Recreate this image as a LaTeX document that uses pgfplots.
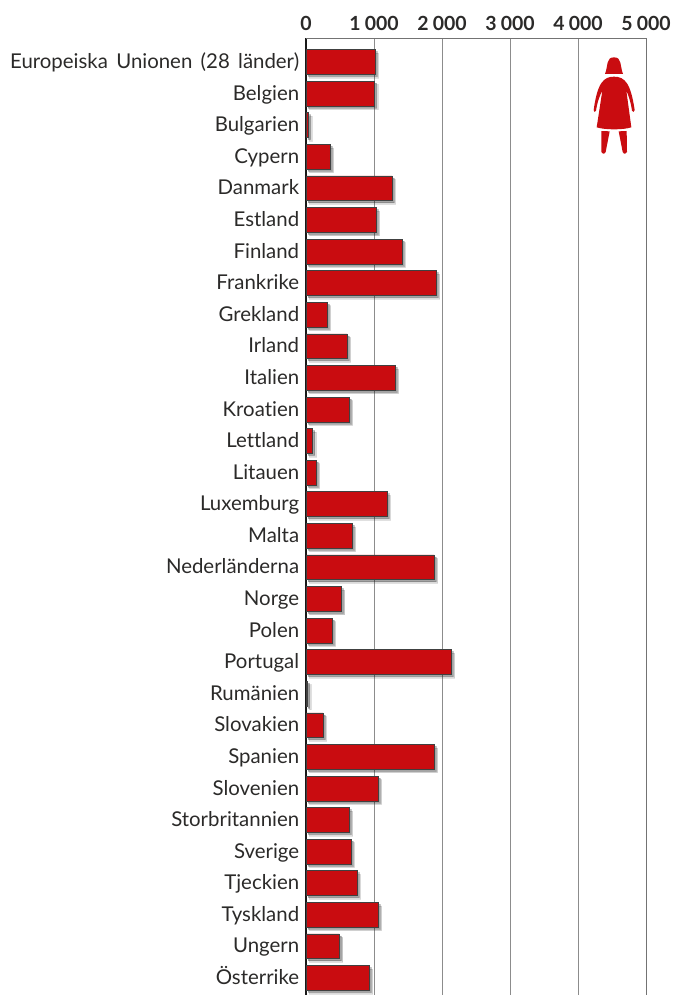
\documentclass[border=0pt]{standalone}
\usepackage{pgfplots}
\usepackage{pgfplotstable}
\usepackage{fontspec}
\setmainfont[Ligatures=NoCommon,WordSpace=1.6]{Lato}
\pgfplotsset{compat=1.18}
\usetikzlibrary{shadows}
\definecolor{barred}{HTML}{C90C10}
\definecolor{txt}{HTML}{2B2A29}
\pgfplotstableread[col sep=comma]{
idx,val
0,1015
1,1010
2,40
3,355
4,1265
5,1030
6,1410
7,1915
8,310
9,605
10,1310
11,635
12,100
13,150
14,1190
15,680
16,1885
17,520
18,385
19,2135
20,25
21,250
22,1885
23,1060
24,635
25,660
26,750
27,1060
28,490
29,930
}\eudata
\begin{document}
\begin{tikzpicture}[x=0.75pt,y=-0.75pt]
\path[use as bounding box] (0,0) rectangle (676,995);
\begin{axis}[
    at={(229.5pt,-28.5pt)}, anchor=north west,
    scale only axis,
    width=255pt, height=717.75pt,
    xmin=0, xmax=5000,
    ymin=-0.76, ymax=29.54,
    y dir=reverse,
    xbar, bar width=18.6pt,
    xtick={0,1000,2000,3000,4000,5000},
    xticklabel pos=top,
    xticklabel style={font=\bfseries\fontsize{14.6}{16}\selectfont, text=txt, yshift=2pt},
    /pgf/number format/assume math mode=true,
    /pgf/number format/1000 sep={\hspace{0.22em}},
    scaled x ticks=false,
    ytick={0,...,29},
    yticklabels={Europeiska Unionen (28 länder),Belgien,Bulgarien,Cypern,Danmark,Estland,Finland,Frankrike,Grekland,Irland,Italien,Kroatien,Lettland,Litauen,Luxemburg,Malta,Nederländerna,Norge,Polen,Portugal,Rumänien,Slovakien,Spanien,Slovenien,Storbritannien,Sverige,Tjeckien,Tyskland,Ungern,Österrike},
    yticklabel style={font=\fontsize{15.3}{17}\selectfont, text=txt, xshift=-1.6pt, yshift=-1.2pt,
        text height=11pt, text depth=3.5pt},
    major tick length=0pt,
    xmajorgrids, grid style={draw=black!45, line width=0.55pt},
    axis line style={draw=black!55, line width=0.6pt},
    axis y line*=left,
    y axis line style={draw=black!90, line width=1.5pt, -},
    clip=false,
]
\addplot[
    draw=black!75, line width=0.5pt, fill=barred,
    drop shadow={shadow xshift=2.6pt, shadow yshift=-2.6pt, fill=black, opacity=0.14},
    drop shadow={shadow xshift=1.5pt, shadow yshift=-1.5pt, fill=black, opacity=0.25},
] table[x=val, y=idx] {\eudata};
\end{axis}
\draw[black!55, line width=0.6pt] (306,38) -- (646,38) -- (646,995);
% woman icon
\begin{scope}[shift={(560,0)},x=0.25pt,y=-0.25pt]
\fill[barred] (135,222) .. controls (145,195) and (138,172) .. (162,172)
  .. controls (186,172) and (179,195) .. (189,222) -- cycle;
\fill[barred] (162,230) .. controls (195,230) and (212,250) .. (224,330)
  .. controls (224,337) and (218,338) .. (216,332)
  .. controls (212,305) and (205,285) .. (199,272)
  -- (214,382) .. controls (190,390) and (135,390) .. (110,382)
  -- (127,272) .. controls (120,285) and (112,305) .. (108,332)
  .. controls (106,338) and (100,337) .. (101,330)
  .. controls (112,250) and (130,230) .. (162,230) -- cycle;
\fill[barred] (124,393) -- (149,394) -- (137,456) .. controls (134,464) and (124,462) .. (124,456) -- cycle;
\fill[barred] (176,394) -- (200,393) -- (201,456) .. controls (201,462) and (191,464) .. (188,456) -- cycle;
\end{scope}
\end{tikzpicture}
\end{document}
